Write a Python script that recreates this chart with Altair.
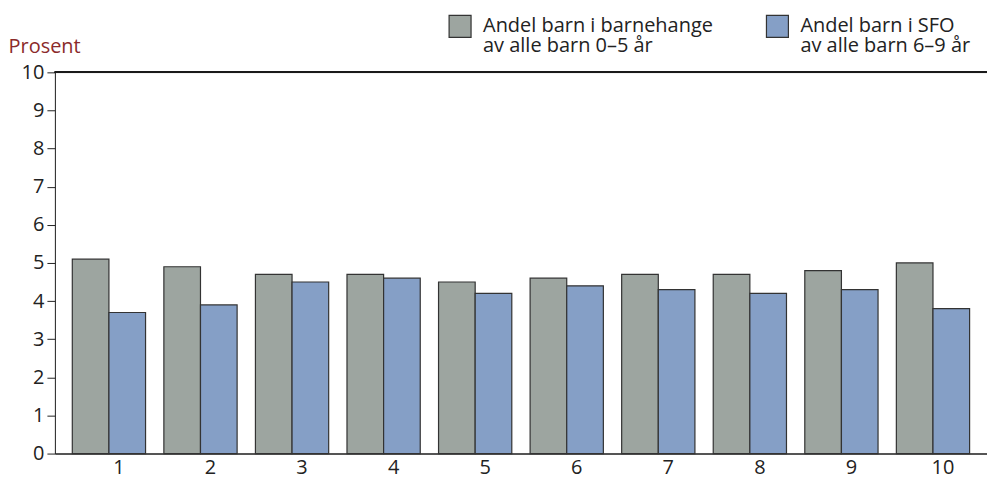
import altair as alt
import pandas as pd

categories = [str(i) for i in range(1, 11)]
barnehage = [5.1, 4.9, 4.7, 4.7, 4.5, 4.6, 4.7, 4.7, 4.8, 5.0]
sfo = [3.7, 3.9, 4.5, 4.6, 4.2, 4.4, 4.3, 4.2, 4.3, 3.8]
series_names = ["Andel barn i barnehange|av alle barn 0–5 år",
                "Andel barn i SFO|av alle barn 6–9 år"]
colors = ["#9da5a0", "#859fc6"]
y_ticks = list(range(0, 11))
y_max = 10

rows = []
for c, a, b in zip(categories, barnehage, sfo):
    rows.append({"kat": c, "serie": series_names[0], "verdi": a})
    rows.append({"kat": c, "serie": series_names[1], "verdi": b})
df = pd.DataFrame(rows)

FONT = "Open Sans"
FS = 20

y_scale = alt.Scale(domain=[0, y_max], nice=False)
y_axis = alt.Axis(values=y_ticks, grid=False, tickSize=8,
                  tickColor="#222222", domainColor="#222222",
                  labelFontSize=FS, labelColor="#222222", labelFont=FONT,
                  labelPadding=3,
                  title="Prosent", titleAngle=0, titleX=-47, titleY=-20,
                  titleAlign="left", titleBaseline="alphabetic",
                  titleFontSize=FS, titleFontWeight="normal",
                  titleColor="#8b2a2a", titleFont=FONT)

bars = alt.Chart(df).mark_bar(stroke="#333333", strokeWidth=1.2).encode(
    x=alt.X("kat:N", sort=categories,
            scale=alt.Scale(paddingInner=0.2, paddingOuter=0.19),
            axis=alt.Axis(title=None, labelAngle=0, ticks=False, labelFontSize=FS,
                          labelColor="#222222", labelFont=FONT, labelPadding=4,
                          labelOffset=10, domainColor="#555555", domainWidth=2)),
    xOffset=alt.XOffset("serie:N", sort=series_names),
    y=alt.Y("verdi:Q", scale=y_scale, axis=y_axis, title="Prosent"),
    color=alt.Color("serie:N", sort=series_names,
                    scale=alt.Scale(domain=series_names, range=colors),
                    legend=alt.Legend(title=None, orient="none", direction="horizontal",
                                      legendX=394, legendY=-58,
                                      symbolType="square", symbolSize=484,
                                      symbolStrokeColor="#333333", symbolStrokeWidth=1.2,
                                      labelFontSize=FS, labelFont=FONT, labelColor="#222222",
                                      labelExpr="split(datum.label, '|')",
                                      labelBaseline="middle", labelOffset=11,
                                      columnPadding=50, labelLimit=400)),
)

top_rule = alt.Chart(df).mark_rule(color="#1a1a1a", strokeWidth=1.5).encode(
    y=alt.YDatum(y_max, type="quantitative", scale=y_scale, axis=y_axis, title="Prosent")
)

chart = alt.layer(bars, top_rule).properties(
    width=934, height=382,
    autosize=alt.AutoSizeParams(type="none"),
    padding={"left": 47, "top": 64, "right": 0, "bottom": 26},
).configure_view(stroke="#1a1a1a", strokeWidth=1.5
).configure(style={"guide-label": {"lineHeight": 20}})

chart.save("out.html", embed_options={"renderer": "svg", "actions": False})
